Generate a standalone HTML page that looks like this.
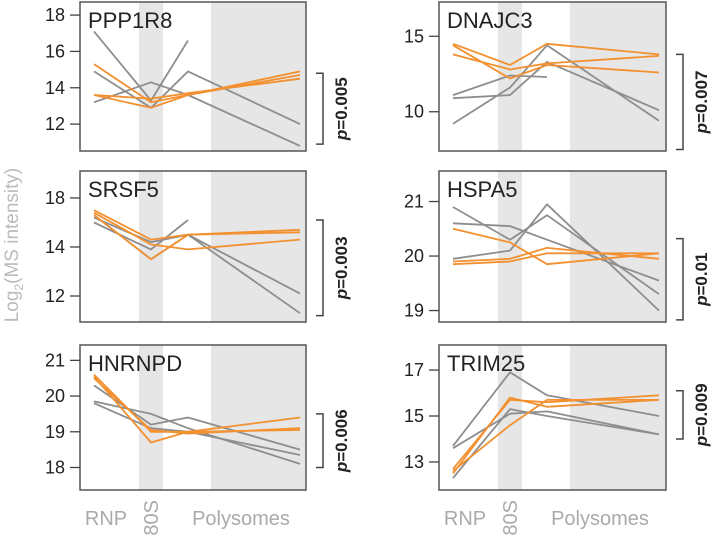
<!DOCTYPE html>
<html><head><meta charset="utf-8">
<style>
html,body{margin:0;padding:0;background:#fff;width:720px;height:548px;overflow:hidden}
svg{display:block;font-family:"Liberation Sans",Arial,sans-serif}
</style></head>
<body>
<svg id="chart" width="720" height="548"></svg>
<script>
// ---- data ----
const fractions = ["RNP","80S","F3","Polysomes"];
const titles = ["PPP1R8","DNAJC3","SRSF5","HSPA5","HNRNPD","TRIM25"];
const pValues = ["0.005","0.007","0.003","0.01","0.006","0.009"];
const ppp1r8Gray = [[17.1,13.3,16.6,null],[14.9,12.9,14.9,12.0],[13.2,14.3,13.6,10.8]];
const ppp1r8Orange = [[15.3,13.2,13.6,14.9],[13.6,13.4,13.7,14.5],[13.6,12.9,13.6,14.7]];
const dnajc3Gray = [[9.2,11.6,14.4,9.4],[10.9,11.1,13.3,10.1],[11.1,12.4,12.3,null]];
const dnajc3Orange = [[14.5,13.1,14.5,13.8],[14.4,12.2,13.1,12.6],[13.8,12.8,13.2,13.7]];
const srsf5Gray = [[15.0,13.9,15.1,null],[15.2,14.2,14.5,12.1],[15.3,13.5,14.5,11.3]];
const srsf5Orange = [[15.5,14.3,14.5,14.7],[15.4,14.1,13.9,14.3],[15.3,13.5,14.5,14.6]];
const hspa5Gray = [[20.9,20.3,20.75,19.3],[20.6,20.55,20.3,19.55],[19.95,20.1,20.95,19.0]];
const hspa5Orange = [[20.5,20.25,19.85,20.05],[19.9,19.95,20.15,19.95],[19.85,19.9,20.05,20.05]];
const hnrnpdGray = [[20.3,19.2,19.4,18.5],[19.85,19.5,19.1,18.1],[19.8,19.1,19.0,18.35]];
const hnrnpdOrange = [[20.6,19.0,19.0,19.05],[20.55,18.7,19.0,19.4],[20.5,19.05,18.95,19.1]];
const trim25Gray = [[13.7,16.9,15.9,15.0],[13.6,15.1,15.2,14.2],[12.3,15.3,15.0,14.2]];
const trim25Orange = [[12.5,15.8,15.4,15.7],[12.7,15.7,15.6,15.9],[12.6,14.6,15.7,15.7]];
const tickVals = [[18,16,14,12],[15,10],[16,14,12],[21,20,19],[21,20,19,18],[17,15,13]];
const tickLabels = [["18","16","14","12"],["15","10"],["18","14","12"],["21","20","19"],["21","20","19","18"],["17","15","13"]];
const yDomains = [[10.52,18.72],[7.4,17.27],[10.94,17.1],[18.79,21.56],[17.37,21.43],[11.78,18.09]];
const bracketRange = [[10.9,14.8],[7.5,13.8],[11.2,15.1],[18.83,20.32],[18.0,19.5],[14.0,16.1]];
const grays = [ppp1r8Gray,dnajc3Gray,srsf5Gray,hspa5Gray,hnrnpdGray,trim25Gray];
const oranges = [ppp1r8Orange,dnajc3Orange,srsf5Orange,hspa5Orange,hnrnpdOrange,trim25Orange];

// ---- layout ----
const NS="http://www.w3.org/2000/svg";
const svg=document.getElementById('chart');
const cols=[[80,306],[439,666]];
const rows=[[2,151],[171,322],[345,490]];
const ptOff=[14,71,108,220];
function mk(tag,attrs,parent){const e=document.createElementNS(NS,tag);for(const k in attrs)e.setAttribute(k,attrs[k]);(parent||svg).appendChild(e);return e;}

titles.forEach((t,i)=>{
  const c=cols[i%2], r=rows[Math.floor(i/2)];
  const g=mk('g',{});
  
  
  const x=j=>c[0]+ptOff[j];
  const dom=yDomains[i];
  const y=v=>r[1]-(v-dom[0])/(dom[1]-dom[0])*(r[1]-r[0]);
  const b1=mk('rect',{x:c[0]+59,y:r[0],width:24,height:r[1]-r[0],fill:'#e6e6e6'},g);
  
  
  const b2=mk('rect',{x:c[0]+131,y:r[0],width:c[1]-c[0]-131,height:r[1]-r[0],fill:'#e6e6e6'},g);
  
  
  const draw=(arr,color,name)=>arr.forEach((s,k)=>{
    const pts=[];s.forEach((v,j)=>{if(v!==null)pts.push(x(j)+','+y(v).toFixed(1));});
    const l=mk('polyline',{points:pts.join(' '),fill:'none',stroke:color,'stroke-width':1.8,'stroke-linejoin':'round'},g);
    
    
  });
  draw(grays[i],'#8e8e8e','gray');
  draw(oranges[i],'#f39030','orange');
  const box=mk('rect',{x:c[0],y:r[0],width:c[1]-c[0],height:r[1]-r[0],fill:'none',stroke:'#555','stroke-width':1.5},g);
  
  
  const tt=mk('text',{x:c[0]+8,y:r[0]+26,'font-size':22,fill:'#222'},g);
  tt.textContent=t;
  
  
  tickVals[i].forEach((v,k)=>{
    const yy=y(v);
    mk('line',{x1:c[0]-10,x2:c[0],y1:yy,y2:yy,stroke:'#444','stroke-width':1.3},g);
    const tl=mk('text',{x:c[0]-15,y:yy+6,'font-size':18,fill:'#222','text-anchor':'end'},g);
    tl.textContent=tickLabels[i][k];
    
    
  });
  const br=bracketRange[i], bx=c[1]+17, ya=y(br[0]), yb=y(br[1]);
  const bp=mk('path',{d:`M${bx-7},${yb} H${bx} V${ya} H${bx-7}`,fill:'none',stroke:'#444','stroke-width':1.5},g);
  
  
  const pt=mk('text',{transform:`translate(${bx+24},${(ya+yb)/2}) rotate(-90)`,'font-size':17,'font-weight':'bold',fill:'#222','text-anchor':'middle'},g);
  pt.innerHTML='<tspan font-style="italic">p</tspan>='+pValues[i];
  
  
});

// x-axis labels
cols.forEach((c,ci)=>{
  const g=mk('g',{});
  
  
  const a=mk('text',{x:c[0]+26,y:525,'font-size':20,fill:'#aaa','text-anchor':'middle'},g);
  a.textContent=fractions[0];
  const b=mk('text',{transform:`translate(${c[0]+78},500) rotate(-90)`,'font-size':20,fill:'#aaa','text-anchor':'end'},g);
  b.textContent=fractions[1];
  const d=mk('text',{x:c[0]+161,y:525,'font-size':20,fill:'#aaa','text-anchor':'middle'},g);
  d.textContent=fractions[3];
});
const yl=mk('text',{transform:'translate(18,245) rotate(-90)','font-size':19,fill:'#bbb','text-anchor':'middle'});
yl.innerHTML='Log<tspan font-size="12" dy="5">2</tspan><tspan dy="-5">(MS intensity)</tspan>';


</script>
</body></html>
